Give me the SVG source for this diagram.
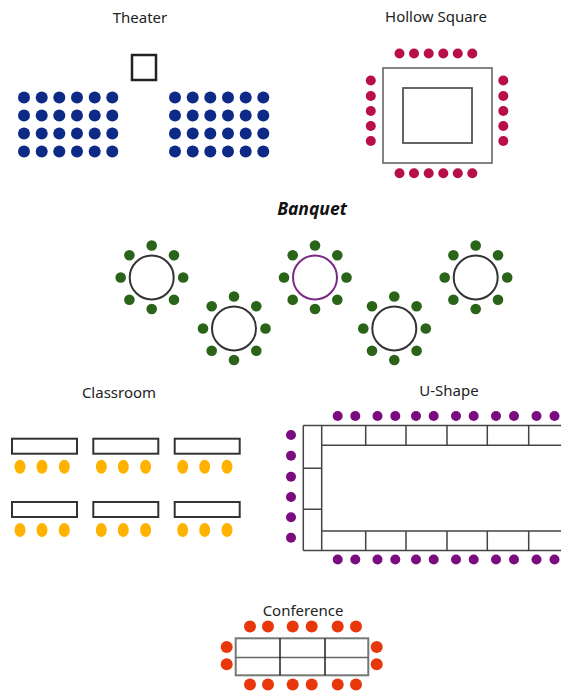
<svg xmlns="http://www.w3.org/2000/svg" xmlns:xlink="http://www.w3.org/1999/xlink" width="561" height="692" viewBox="0 0 561 692">
<style>
.title{font-family:"Noto Sans","Open Sans","Liberation Sans",sans-serif;font-size:15px;fill:#222;text-anchor:middle}
.btitle{font-family:"Noto Sans","Open Sans","Liberation Sans",sans-serif;font-size:17.5px;font-weight:bold;font-style:italic;fill:#111;text-anchor:middle}
.th{fill:#0e2a87}
.hs{fill:#b80f47}
.bq{fill:#2a6418}
.cr{fill:#ffb300}
.us{fill:#7b0c80}
.cf{fill:#e8380b}
.line{stroke:#444;stroke-width:1.5;fill:none}
.rtable{fill:#fff;stroke:#333;stroke-width:2}
</style>
<defs>
<g id="row6">
<circle cx="0" cy="0" r="6"/><circle cx="17.7" cy="0" r="6"/><circle cx="35.3" cy="0" r="6"/><circle cx="53" cy="0" r="6"/><circle cx="70.7" cy="0" r="6"/><circle cx="88.3" cy="0" r="6"/>
</g>
<g id="block">
<use xlink:href="#row6" y="0"/><use xlink:href="#row6" y="18"/><use xlink:href="#row6" y="36"/><use xlink:href="#row6" y="54"/>
</g>
<g id="chairs8">
<circle cx="0" cy="-32" r="5.3"/><circle cx="22.3" cy="-22.3" r="5.3"/><circle cx="31.5" cy="0" r="5.3"/><circle cx="22.3" cy="22.3" r="5.3"/>
<circle cx="0" cy="31.5" r="5.3"/><circle cx="-22.3" cy="22.3" r="5.3"/><circle cx="-31" cy="0" r="5.3"/><circle cx="-22.3" cy="-22.3" r="5.3"/>
</g>
<g id="desk">
<rect class="rtable" x="0" y="0" width="65" height="15"/>
<ellipse class="cr" cx="8" cy="28" rx="5.5" ry="7"/><ellipse class="cr" cx="30" cy="28" rx="5.5" ry="7"/><ellipse class="cr" cx="52.3" cy="28" rx="5.5" ry="7"/>
</g>
</defs>

<g id="theater">
<text class="title" x="140" y="23">Theater</text>
<rect x="132" y="55" width="24" height="25" fill="#fff" stroke="#222" stroke-width="2.5"/>
<g class="th">
<use xlink:href="#block" x="24" y="97.5"/>
<use xlink:href="#block" x="175" y="97.5"/>
</g>
</g>

<g id="hollow-square">
<text class="title" x="436" y="21.5">Hollow Square</text>
<rect x="383" y="68" width="109" height="95" fill="#fff" stroke="#666" stroke-width="1.6"/>
<rect x="403" y="88" width="69" height="55" fill="#fff" stroke="#555" stroke-width="1.8"/>
<g class="hs">
<circle cx="399.5" cy="53.5" r="5"/><circle cx="414" cy="53.5" r="5"/><circle cx="428.7" cy="53.5" r="5"/><circle cx="443.3" cy="53.5" r="5"/><circle cx="457.8" cy="53.5" r="5"/><circle cx="472.3" cy="53.5" r="5"/>
<circle cx="399.5" cy="173.3" r="5"/><circle cx="414" cy="173.3" r="5"/><circle cx="428.7" cy="173.3" r="5"/><circle cx="443.3" cy="173.3" r="5"/><circle cx="457.8" cy="173.3" r="5"/><circle cx="472.3" cy="173.3" r="5"/>
<circle cx="370.8" cy="80.5" r="5"/><circle cx="370.8" cy="96" r="5"/><circle cx="370.8" cy="111" r="5"/><circle cx="370.8" cy="126" r="5"/><circle cx="370.8" cy="141" r="5"/>
<circle cx="503.3" cy="80.5" r="5"/><circle cx="503.3" cy="96" r="5"/><circle cx="503.3" cy="111" r="5"/><circle cx="503.3" cy="126" r="5"/><circle cx="503.3" cy="141" r="5"/>
</g>
</g>

<g id="banquet">
<text class="btitle" x="312" y="214.5">Banquet</text>
<g id="banquet-t1"><circle cx="151.7" cy="277.5" r="22" fill="#fff" stroke="#333" stroke-width="2"/><use class="bq" xlink:href="#chairs8" x="151.7" y="277.5"/></g>
<g id="banquet-t2"><circle cx="234" cy="328.5" r="22" fill="#fff" stroke="#333" stroke-width="2"/><use class="bq" xlink:href="#chairs8" x="234" y="328.5"/></g>
<g id="banquet-t3"><circle cx="315" cy="277.5" r="22" fill="#fff" stroke="#7a2a86" stroke-width="2"/><use class="bq" xlink:href="#chairs8" x="315" y="277.5"/></g>
<g id="banquet-t4"><circle cx="394.3" cy="328.5" r="22" fill="#fff" stroke="#333" stroke-width="2"/><use class="bq" xlink:href="#chairs8" x="394.3" y="328.5"/></g>
<g id="banquet-t5"><circle cx="475.7" cy="277.5" r="22" fill="#fff" stroke="#333" stroke-width="2"/><use class="bq" xlink:href="#chairs8" x="475.7" y="277.5"/></g>
</g>

<g id="classroom">
<text class="title" x="119" y="397.5">Classroom</text>
<use xlink:href="#desk" x="12" y="438.7"/>
<use xlink:href="#desk" x="93.3" y="438.7"/>
<use xlink:href="#desk" x="174.7" y="438.7"/>
<use xlink:href="#desk" x="12" y="502"/>
<use xlink:href="#desk" x="93.3" y="502"/>
<use xlink:href="#desk" x="174.7" y="502"/>
</g>

<g id="u-shape">
<text class="title" x="449" y="396">U-Shape</text>
<g class="line">
<path d="M303.3 425.5 V550.5 M321.7 425.5 V550.5 M303.3 425.5 H561 M321.7 445.3 H561 M321.7 531 H561 M303.3 550.5 H561 M303.3 468.3 H321.7 M303.3 509.3 H321.7"/>
<path d="M365.7 425.5 V445.3 M406 425.5 V445.3 M447 425.5 V445.3 M487.3 425.5 V445.3 M528.7 425.5 V445.3"/>
<path d="M365.7 531 V550.5 M406 531 V550.5 M447 531 V550.5 M487.3 531 V550.5 M528.7 531 V550.5"/>
</g>
<g class="us">
<circle cx="337.7" cy="416" r="5"/><circle cx="355.3" cy="416" r="5"/><circle cx="377.5" cy="416" r="5"/><circle cx="395.3" cy="416" r="5"/><circle cx="416" cy="416" r="5"/><circle cx="433.7" cy="416" r="5"/><circle cx="456" cy="416" r="5"/><circle cx="473.7" cy="416" r="5"/><circle cx="496" cy="416" r="5"/><circle cx="514" cy="416" r="5"/><circle cx="536.5" cy="416" r="5"/><circle cx="554.5" cy="416" r="5"/>
<circle cx="337.7" cy="559.5" r="5"/><circle cx="355.3" cy="559.5" r="5"/><circle cx="377.5" cy="559.5" r="5"/><circle cx="395.3" cy="559.5" r="5"/><circle cx="416" cy="559.5" r="5"/><circle cx="433.7" cy="559.5" r="5"/><circle cx="456" cy="559.5" r="5"/><circle cx="473.7" cy="559.5" r="5"/><circle cx="496" cy="559.5" r="5"/><circle cx="514" cy="559.5" r="5"/><circle cx="536.5" cy="559.5" r="5"/><circle cx="554.5" cy="559.5" r="5"/>
<circle cx="291" cy="435" r="5"/><circle cx="291" cy="455.7" r="5"/><circle cx="291" cy="476.7" r="5"/><circle cx="291" cy="497" r="5"/><circle cx="291" cy="517.3" r="5"/><circle cx="291" cy="537.7" r="5"/>
</g>
</g>

<g id="conference">
<text class="title" x="303" y="616">Conference</text>
<rect x="235.7" y="638.3" width="132.6" height="37" fill="#fff" stroke="#777" stroke-width="2"/>
<path d="M235.7 657.5 H368.3" stroke="#666" stroke-width="1.6"/>
<path d="M280 638.3 V675.3 M325 638.3 V675.3" stroke="#222" stroke-width="1.5"/>
<g class="cf">
<circle cx="250" cy="626.5" r="6"/><circle cx="268" cy="626.5" r="6"/><circle cx="292.7" cy="626.5" r="6"/><circle cx="311.7" cy="626.5" r="6"/><circle cx="337.7" cy="626.5" r="6"/><circle cx="356" cy="626.5" r="6"/>
<circle cx="250" cy="684.5" r="6"/><circle cx="268" cy="684.5" r="6"/><circle cx="292.7" cy="684.5" r="6"/><circle cx="311.7" cy="684.5" r="6"/><circle cx="337.7" cy="684.5" r="6"/><circle cx="356" cy="684.5" r="6"/>
<circle cx="226.7" cy="647" r="6"/><circle cx="226.7" cy="664.3" r="6"/>
<circle cx="376.7" cy="647" r="6"/><circle cx="376.7" cy="664.3" r="6"/>
</g>
</g>
</svg>
